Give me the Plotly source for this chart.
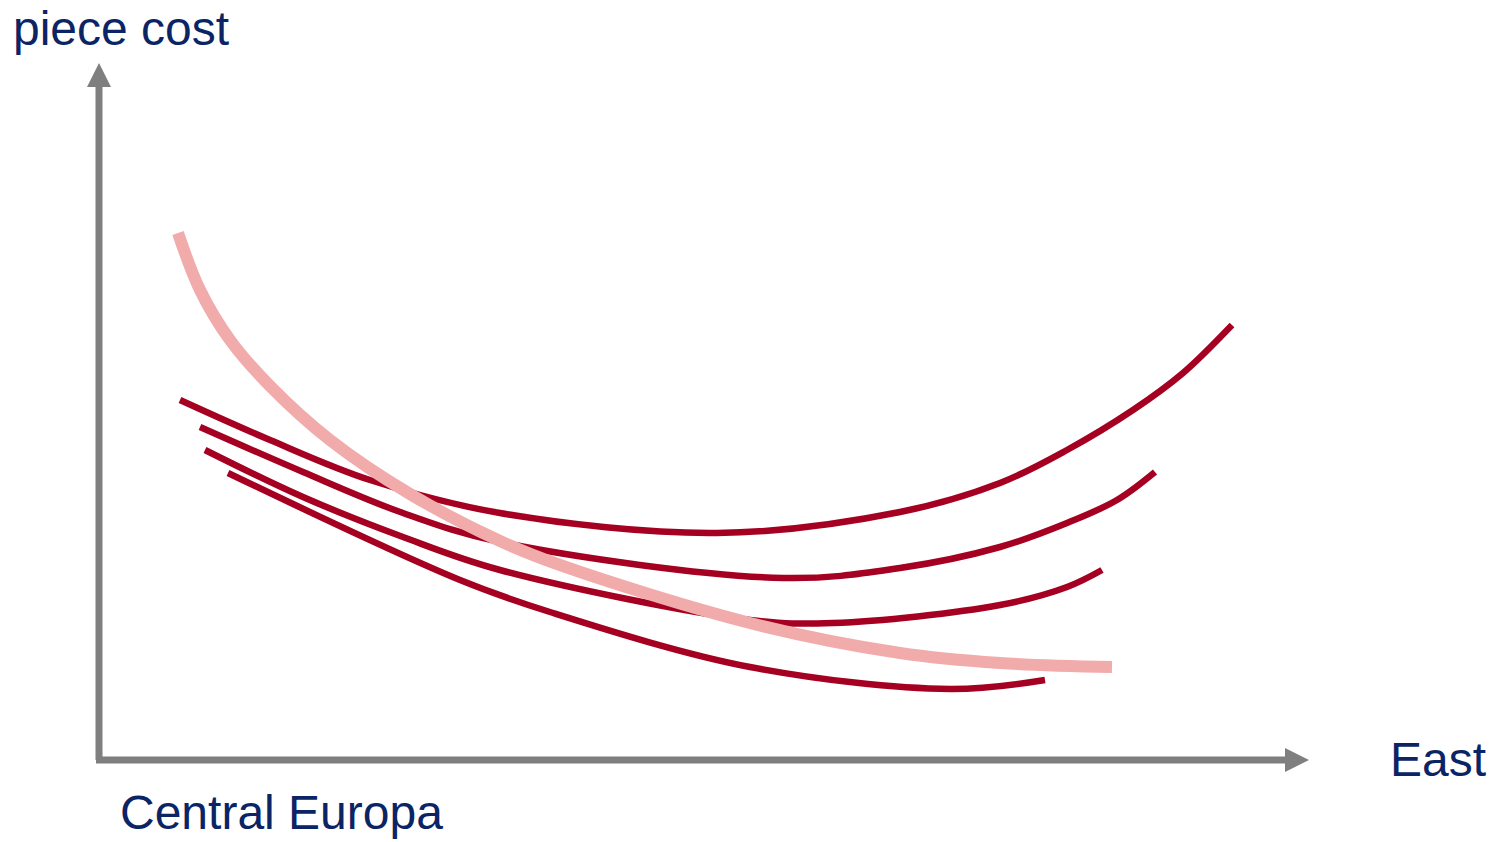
import plotly.graph_objects as go

# Chart units: x = distance from Central Europa toward East, y = piece cost
# (origin at the axis corner). Values in pixel positions.
ORIGIN_PX = (99, 760)
PAGE_OFFSET = 8  # default body margin of the html page

curve1_px_x = [180, 270, 370, 500, 717, 900, 1000, 1067, 1133, 1183, 1232]
curve1_px_y = [400, 440, 480, 513, 533, 512, 483, 450, 410, 373, 325]

curve2_px_x = [200, 303, 403, 500, 783, 900, 1000, 1067, 1117, 1155]
curve2_px_y = [427, 472, 513, 542, 578, 568, 547, 523, 500, 472]

curve3_px_x = [205, 303, 403, 500, 750, 833, 1000, 1067, 1102]
curve3_px_y = [450, 497, 537, 570, 620, 623, 605, 587, 570]

curve4_px_x = [228, 460, 550, 750, 950, 1045]
curve4_px_y = [473, 580, 612, 667, 689, 680]

pink_px_x = [178, 200, 230, 270, 330, 410, 500, 560, 750, 900, 1000, 1112]
pink_px_y = [233, 290, 340, 386, 440, 494, 541, 565, 623, 653, 663, 667]

def to_x(v):
    return [a - ORIGIN_PX[0] for a in v]

def to_y(v):
    return [ORIGIN_PX[1] - a for a in v]

DARK = "#A50021"
PINK = "#F2ABAB"
GREY = "#7F7F7F"
NAVY = "#0B2466"

fig = go.Figure()
for xs, ys in [(curve1_px_x, curve1_px_y), (curve2_px_x, curve2_px_y),
               (curve3_px_x, curve3_px_y), (curve4_px_x, curve4_px_y)]:
    fig.add_trace(go.Scatter(x=to_x(xs), y=to_y(ys), mode="lines",
                             line=dict(color=DARK, width=6.5, shape="spline", smoothing=1.0),
                             hoverinfo="skip", showlegend=False))
fig.add_trace(go.Scatter(x=to_x(pink_px_x), y=to_y(pink_px_y), mode="lines",
                         line=dict(color=PINK, width=12, shape="spline", smoothing=1.0),
                         hoverinfo="skip", showlegend=False))

# axes with arrows (chart units)
shapes = [
    dict(type="line", x0=0, y0=0, x1=0, y1=760 - 86, line=dict(color=GREY, width=7), layer="below"),
    dict(type="line", x0=-3, y0=0, x1=1286 - 99, y1=0, line=dict(color=GREY, width=7), layer="below"),
    dict(type="path", path=f"M {87-99} {760-87} L {111-99} {760-87} L 0 {760-63} Z",
         fillcolor=GREY, line=dict(width=0)),
    dict(type="path", path=f"M {1285-99} 12 L {1285-99} -12 L {1309-99} 0 Z",
         fillcolor=GREY, line=dict(width=0)),
]

font = dict(family="Liberation Sans, Arial, sans-serif", size=48, color=NAVY)
annotations = [
    dict(text="piece cost", x=11 - 99, y=760 - 28, xanchor="left", yanchor="middle",
         showarrow=False, font=font),
    dict(text="East", x=1388 - 99, y=760 - 759, xanchor="left", yanchor="middle",
         showarrow=False, font=font),
    dict(text="Central Europa", x=118 - 99, y=760 - 812, xanchor="left", yanchor="middle",
         showarrow=False, font=font),
]

W, H = 1499 - PAGE_OFFSET, 842 - PAGE_OFFSET
fig.update_layout(
    width=W, height=H,
    margin=dict(l=0, r=0, t=0, b=0),
    paper_bgcolor="white", plot_bgcolor="white",
    xaxis=dict(range=[PAGE_OFFSET - 99, 1499 - 99], visible=False, fixedrange=True),
    yaxis=dict(range=[760 - 842, 760 - PAGE_OFFSET], visible=False, fixedrange=True),
    shapes=shapes, annotations=annotations, showlegend=False,
)
fig.write_html("out.html")
